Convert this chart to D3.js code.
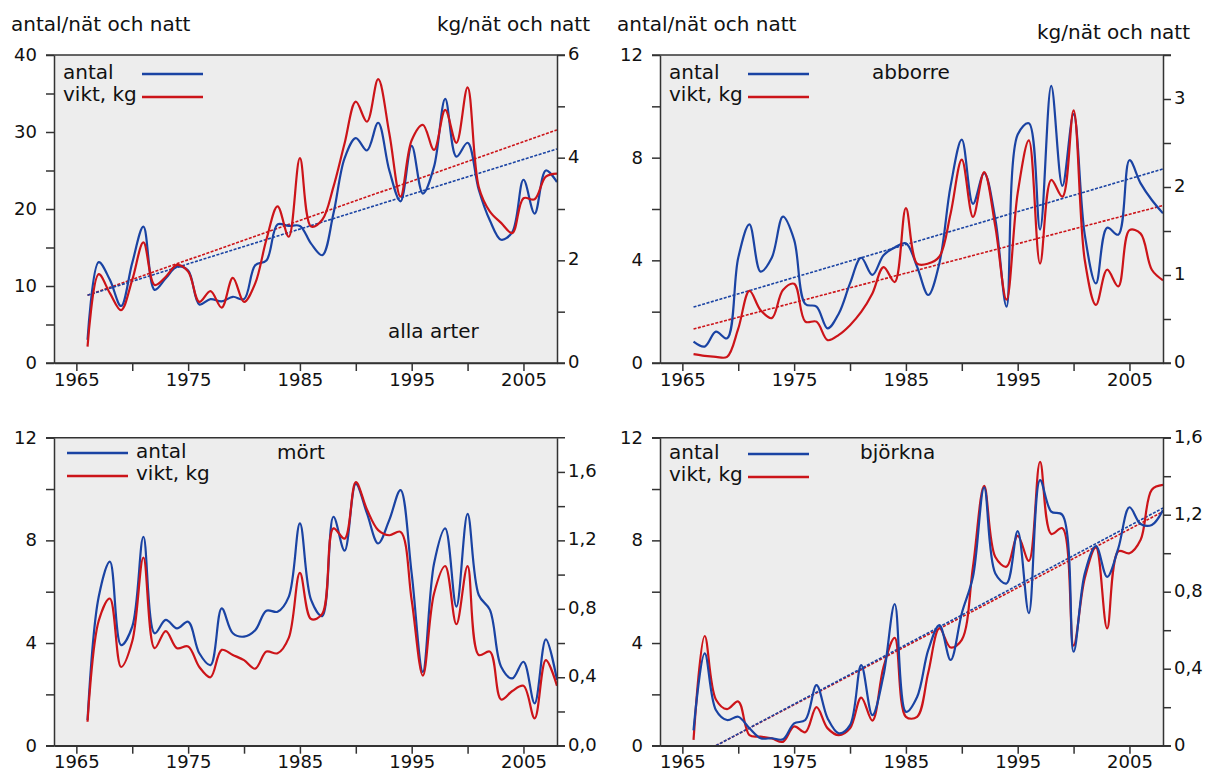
<!DOCTYPE html>
<html>
<head>
<meta charset="utf-8">
<script src="https://cdn.jsdelivr.net/npm/d3@7"></script>
<style>
    body { margin: 0; background: #fff; }
    svg text { font-family: "DejaVu Sans", "Liberation Sans", Arial, sans-serif; fill: #111; }
</style>
</head>
<body>
<svg id="chart" width="1207" height="771"></svg>
<script>
// annual values 1966-2008
var years = d3.range(1966, 2009);

var allaAntal = [3.0, 13.1, 10.8, 7.4, 13.0, 17.7, 9.5, 11.0, 12.5, 12.0,
    7.6, 8.3, 8.0, 8.6, 8.3, 12.7, 13.3, 18.0, 17.8, 17.8,
    15.5, 14.0, 19.4, 26.6, 29.2, 27.6, 31.2, 25.0, 21.0, 28.2,
    22.0, 25.5, 34.3, 26.8, 28.6, 22.5, 18.5, 16.0, 17.0, 23.8,
    19.4, 25.0, 23.5];
var allaVikt = [0.32, 1.73, 1.36, 1.03, 1.62, 2.35, 1.52, 1.68, 1.91, 1.78,
    1.19, 1.40, 1.08, 1.66, 1.19, 1.55, 2.40, 3.05, 2.46, 3.99,
    2.66, 2.79, 3.43, 4.28, 5.09, 4.70, 5.53, 4.47, 3.24, 4.34,
    4.64, 4.15, 4.93, 4.29, 5.37, 3.43, 2.95, 2.73, 2.53, 3.21,
    3.19, 3.63, 3.69];

var abborreAntal = [0.83, 0.64, 1.22, 0.96, 4.1, 5.4, 3.56, 4.1, 5.7, 4.8,
    2.3, 2.2, 1.35, 1.93, 3.1, 4.1, 3.43, 4.2, 4.5, 4.66,
    3.75, 2.65, 3.9, 6.9, 8.7, 6.2, 7.4, 5.6, 2.2, 8.9,
    9.34, 5.2, 10.8, 6.9, 9.7, 5.0, 3.1, 5.27, 5.0, 7.9,
    7.0, 6.35, 5.83];
var abborreVikt = [0.10, 0.08, 0.07, 0.07, 0.39, 0.82, 0.60, 0.51, 0.83, 0.90,
    0.47, 0.47, 0.26, 0.32, 0.43, 0.58, 0.79, 1.09, 0.92, 1.76,
    1.13, 1.13, 1.21, 1.70, 2.31, 1.66, 2.17, 1.55, 0.72, 1.93,
    2.53, 1.13, 2.08, 1.89, 2.87, 1.17, 0.66, 1.06, 0.87, 1.51,
    1.47, 1.06, 0.94];

var mortAntal = [1.0, 5.8, 7.17, 3.92, 4.64, 8.14, 4.38, 4.9, 4.57, 4.83,
    3.6, 3.14, 5.35, 4.38, 4.25, 4.5, 5.26, 5.22, 5.8, 8.66,
    5.68, 5.05, 8.92, 7.6, 10.2, 9.05, 7.88, 8.8, 9.96, 6.7,
    2.88, 7.1, 8.47, 5.42, 9.03, 5.87, 5.29, 3.08, 2.62, 3.27,
    1.65, 4.14, 2.56];
var mortVikt = [0.14, 0.73, 0.86, 0.46, 0.61, 1.10, 0.57, 0.67, 0.57, 0.58,
    0.46, 0.40, 0.56, 0.53, 0.50, 0.45, 0.55, 0.54, 0.63, 1.01,
    0.74, 0.77, 1.27, 1.21, 1.54, 1.38, 1.26, 1.23, 1.25, 0.85,
    0.41, 0.89, 1.05, 0.71, 1.05, 0.53, 0.55, 0.27, 0.32, 0.35,
    0.16, 0.50, 0.35];

var bjorknaAntal = [0.6, 3.6, 1.39, 1.0, 1.13, 0.68, 0.29, 0.29, 0.25, 0.87,
    1.0, 2.36, 1.06, 0.48, 0.8, 3.14, 1.19, 2.75, 5.52, 1.32,
    1.9, 3.73, 4.7, 3.34, 5.16, 6.58, 10.06, 6.71, 6.32, 8.36,
    5.16, 10.35, 9.12, 8.99, 3.66, 6.71, 7.78, 6.58, 7.69, 9.29,
    8.64, 8.6, 9.18];
var bjorknaVikt = [0.03, 0.57, 0.24, 0.19, 0.23, 0.055, 0.047, 0.038, 0.02, 0.10,
    0.07, 0.20, 0.09, 0.055, 0.09, 0.25, 0.13, 0.41, 0.56, 0.15,
    0.15, 0.38, 0.61, 0.51, 0.55, 0.93, 1.35, 0.98, 0.93, 1.09,
    0.96, 1.475, 1.10, 1.13, 0.52, 0.87, 1.03, 0.61, 1.01, 1.0,
    1.07, 1.33, 1.355];

// trend lines: [start year, end year] and values at those years
var allaTrendYears = [1966, 2008];
var allaTrendAntal = [8.8, 27.8];
var allaTrendVikt = [1.32, 4.54];
var abborreTrendYears = [1966, 2008];
var abborreTrendAntal = [2.18, 7.56];
var abborreTrendVikt = [0.386, 1.79];
var bjorknaTrendYears = [1968, 2008];
var bjorknaTrendAntal = [0, 9.26];
var bjorknaTrendVikt = [0, 1.216];

var xLabelYears = [1965, 1975, 1985, 1995, 2005];
var xTickYears = [1965, 1970, 1975, 1980, 1985, 1990, 1995, 2000, 2005];

var BLUE = "#1a43a3", RED = "#cc1419", AXIS = "#333";
var FONT = "'DejaVu Sans', 'Liberation Sans', Arial, sans-serif";
var W = 503, H = 308;

var svg = d3.select("#chart");

function commaFmt(digits) {
    return function (d) { return d3.format("." + digits + "f")(d).replace(".", ","); };
}

function drawPanel(p) {
    var g = svg.append("g");
    var x = d3.scaleLinear().domain([1963, 2008]).range([p.left, p.left + W]);
    var yL = d3.scaleLinear().domain([0, p.maxL]).range([p.top + H, p.top]);
    var yR = d3.scaleLinear().domain([0, p.maxR]).range([p.top + H, p.top]);

    g.append("rect")
        .attr("x", p.left).attr("y", p.top)
        .attr("width", W).attr("height", H)
        .attr("fill", "#ededed");

    var clipId = "clip-" + p.name;
    svg.append("clipPath").attr("id", clipId).append("rect")
        .attr("x", p.left).attr("y", p.top).attr("width", W).attr("height", H);
    var plot = g.append("g").attr("clip-path", "url(#" + clipId + ")");

    // dashed trend lines
    if (p.trendYears) {
        var tl = d3.line().x(function (d) { return x(d[0]); });
        plot.append("path")
            .datum(d3.zip(p.trendYears, p.trendVikt))
            .attr("d", tl.y(function (d) { return yR(d[1]); }))
            .attr("fill", "none").attr("stroke", RED)
            .attr("stroke-width", 1.6).attr("stroke-dasharray", "3,1.5");
        plot.append("path")
            .datum(d3.zip(p.trendYears, p.trendAntal))
            .attr("d", tl.y(function (d) { return yL(d[1]); }))
            .attr("fill", "none").attr("stroke", BLUE)
            .attr("stroke-width", 1.6).attr("stroke-dasharray", "3,1.5");
    }

    var curve = d3.curveCatmullRom.alpha(0.5);
    var lineL = d3.line().curve(curve)
        .x(function (d) { return x(d[0]); })
        .y(function (d) { return yL(d[1]); });
    var lineR = d3.line().curve(curve)
        .x(function (d) { return x(d[0]); })
        .y(function (d) { return yR(d[1]); });

    var drawBlue = function () {
        plot.append("path").datum(d3.zip(years, p.antal)).attr("d", lineL)
            .attr("fill", "none").attr("stroke", BLUE).attr("stroke-width", 2.2);
    };
    var drawRed = function () {
        plot.append("path").datum(d3.zip(years, p.vikt)).attr("d", lineR)
            .attr("fill", "none").attr("stroke", RED).attr("stroke-width", 2.2);
    };
    if (p.redOnTop) { drawBlue(); drawRed(); } else { drawRed(); drawBlue(); }

    // axes
    var leftAxis = d3.axisLeft(yL).tickValues(p.ticksL).tickSize(8).tickSizeOuter(0)
        .tickFormat(function (d) { return p.labelsL.indexOf(d) >= 0 ? d : ""; });
    var gl = g.append("g").attr("transform", "translate(" + p.left + ",0)").call(leftAxis);

    var rightAxis = d3.axisRight(yR).tickValues(p.ticksR).tickSize(8).tickSizeOuter(0)
        .tickFormat(function (d) {
            var hit = p.labelsR.some(function (v) { return Math.abs(v - d) < 1e-9; });
            return hit ? p.fmtR(d) : "";
        });
    var gr = g.append("g").attr("transform", "translate(" + (p.left + W) + ",0)").call(rightAxis);

    var bottomAxis = d3.axisBottom(x).tickValues(xTickYears).tickSize(8).tickSizeOuter(0)
        .tickFormat(function (d) { return xLabelYears.indexOf(d) >= 0 ? d : ""; });
    var gb = g.append("g").attr("transform", "translate(0," + (p.top + H) + ")").call(bottomAxis);

    [gl, gr, gb].forEach(function (a) {
        a.select(".domain").attr("stroke", AXIS).attr("stroke-width", 1.5);
        a.selectAll(".tick line").attr("stroke", AXIS).attr("stroke-width", 1.5);
        a.selectAll(".tick text").attr("font-size", 18).attr("fill", "#111")
            .style("font-family", FONT);
    });
    gl.selectAll(".tick text").attr("x", -17).attr("dy", "0.3em");
    gr.selectAll(".tick text").attr("x", 11).attr("dy", "0.25em");
    gb.selectAll(".tick text").attr("y", 10).attr("dy", "0.71em");

    // frame lines (extend over the tick length on both sides)
    g.append("line")
        .attr("x1", p.left - 8).attr("x2", p.left + W + 8)
        .attr("y1", p.top).attr("y2", p.top)
        .attr("stroke", AXIS).attr("stroke-width", 1.5);
    g.append("line")
        .attr("x1", p.left - 8).attr("x2", p.left + W + 8)
        .attr("y1", p.top + H).attr("y2", p.top + H)
        .attr("stroke", AXIS).attr("stroke-width", 1.5);

    // legend
    var lg = p.legend;
    g.append("text").attr("x", lg.textX).attr("y", lg.y1 + 6).attr("font-size", 20).text("antal");
    g.append("text").attr("x", lg.textX).attr("y", lg.y2 + 6).attr("font-size", 20).text("vikt, kg");
    g.append("line").attr("x1", lg.lineX).attr("x2", lg.lineX + 61)
        .attr("y1", lg.y1 + 1).attr("y2", lg.y1 + 1)
        .attr("stroke", BLUE).attr("stroke-width", 2.6);
    g.append("line").attr("x1", lg.lineX).attr("x2", lg.lineX + 61)
        .attr("y1", lg.y2 + 2).attr("y2", lg.y2 + 2)
        .attr("stroke", RED).attr("stroke-width", 2.6);

    g.append("text").attr("x", p.titleX).attr("y", p.titleY)
        .attr("font-size", 20).text(p.title);

    if (p.unitL) {
        g.append("text").attr("x", p.unitL[0]).attr("y", p.unitL[1])
            .attr("font-size", 20).text("antal/nät och natt");
    }
    if (p.unitR) {
        g.append("text").attr("x", p.unitR[0]).attr("y", p.unitR[1])
            .attr("font-size", 20).attr("text-anchor", "end").text("kg/nät och natt");
    }
}

drawPanel({
    name: "alla", left: 54, top: 55, maxL: 40, maxR: 6,
    antal: allaAntal, vikt: allaVikt, redOnTop: true,
    trendYears: allaTrendYears, trendAntal: allaTrendAntal, trendVikt: allaTrendVikt,
    ticksL: d3.range(0, 41, 5), labelsL: [0, 10, 20, 30, 40],
    ticksR: d3.range(0, 7, 1), labelsR: [0, 2, 4, 6], fmtR: d3.format("d"),
    legend: { textX: 63, lineX: 142, y1: 73, y2: 95 },
    title: "alla arter", titleX: 388, titleY: 338,
    unitL: [11, 31], unitR: [590, 31]
});

drawPanel({
    name: "abborre", left: 660, top: 55, maxL: 12, maxR: 3.5,
    antal: abborreAntal, vikt: abborreVikt, redOnTop: true,
    trendYears: abborreTrendYears, trendAntal: abborreTrendAntal, trendVikt: abborreTrendVikt,
    ticksL: d3.range(0, 13, 2), labelsL: [0, 4, 8, 12],
    ticksR: d3.range(0, 3.51, 0.5), labelsR: [0, 1, 2, 3], fmtR: d3.format("d"),
    legend: { textX: 669, lineX: 748, y1: 73, y2: 95 },
    title: "abborre", titleX: 872, titleY: 79,
    unitL: [617, 31], unitR: [1190, 39]
});

drawPanel({
    name: "mort", left: 54, top: 437.7, maxL: 12, maxR: 1.8,
    antal: mortAntal, vikt: mortVikt, redOnTop: true,
    ticksL: d3.range(0, 13, 2), labelsL: [0, 4, 8, 12],
    ticksR: d3.range(0, 1.61, 0.2), labelsR: [0, 0.4, 0.8, 1.2, 1.6], fmtR: commaFmt(1),
    legend: { textX: 136, lineX: 67, y1: 452, y2: 474 },
    title: "mört", titleX: 277, titleY: 459
});

drawPanel({
    name: "bjorkna", left: 660, top: 437.7, maxL: 12, maxR: 1.6,
    antal: bjorknaAntal, vikt: bjorknaVikt, redOnTop: false,
    trendYears: bjorknaTrendYears, trendAntal: bjorknaTrendAntal, trendVikt: bjorknaTrendVikt,
    ticksL: d3.range(0, 13, 2), labelsL: [0, 4, 8, 12],
    ticksR: d3.range(0, 1.61, 0.2), labelsR: [0, 0.4, 0.8, 1.2, 1.6],
    fmtR: function (d) { return d === 0 ? "0" : commaFmt(1)(d); },
    legend: { textX: 669, lineX: 748, y1: 453, y2: 475 },
    title: "björkna", titleX: 860, titleY: 459
});
</script>
</body>
</html>
